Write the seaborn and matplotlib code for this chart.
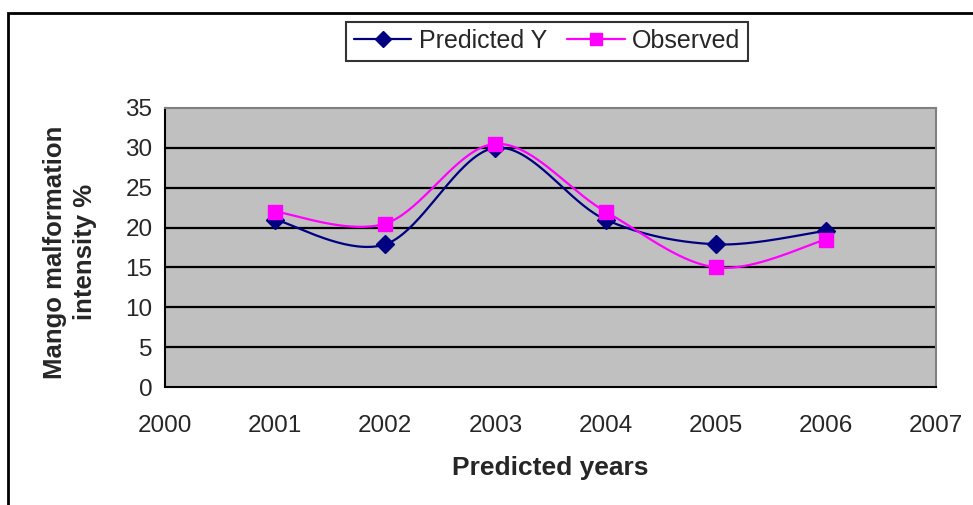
import numpy as np
import pandas as pd
import matplotlib
matplotlib.use("Agg")
import matplotlib.pyplot as plt
from matplotlib.patches import Rectangle
from matplotlib.lines import Line2D
import seaborn as sns

years = [2001, 2002, 2003, 2004, 2005, 2006]
predicted = [21.0, 17.9, 30.0, 21.0, 17.9, 19.6]
observed = [22.0, 20.5, 30.5, 22.0, 15.0, 18.5]
x_ticks = [2000, 2001, 2002, 2003, 2004, 2005, 2006, 2007]
y_ticks = [0, 5, 10, 15, 20, 25, 30, 35]

sns.set_style("white")
plt.rcParams['font.family'] = ['Liberation Sans', 'DejaVu Sans']


def smooth(xs, ys, n=40):
    """Excel-style smoothed line (Catmull-Rom Bezier) through the data points."""
    xs = np.asarray(xs, float)
    ys = np.asarray(ys, float)
    px = np.concatenate([[xs[0]], xs, [xs[-1]]])
    py = np.concatenate([[ys[0]], ys, [ys[-1]]])
    ox, oy = [], []
    t = np.linspace(0, 1, n)
    for i in range(1, len(px) - 2):
        p0 = np.array([px[i], py[i]])
        p3 = np.array([px[i + 1], py[i + 1]])
        c1 = p0 + (np.array([px[i + 1], py[i + 1]]) - np.array([px[i - 1], py[i - 1]])) / 6
        c2 = p3 - (np.array([px[i + 2], py[i + 2]]) - np.array([px[i], py[i]])) / 6
        b = ((1 - t) ** 3)[:, None] * p0 + (3 * (1 - t) ** 2 * t)[:, None] * c1 \
            + (3 * (1 - t) * t ** 2)[:, None] * c2 + (t ** 3)[:, None] * p3
        ox.extend(b[:, 0]); oy.extend(b[:, 1])
    return np.array(ox), np.array(oy)


fig = plt.figure(figsize=(9.73, 5.05), dpi=100)
ax = fig.add_axes([165 / 973, 1 - 387 / 505, (936 - 165) / 973, (387 - 108) / 505])
ax.set_facecolor("#C0C0C0")

navy = "#000080"
magenta = "#FF00FF"

for vals, col, mk, ms in [(predicted, navy, "D", 9), (observed, magenta, "s", 9.5)]:
    sx, sy = smooth(years, vals)
    sns.lineplot(x=sx, y=sy, ax=ax, color=col, lw=1.6, sort=False, estimator=None, zorder=3)
    df = pd.DataFrame({"year": years, "v": vals})
    ax.plot(df["year"], df["v"], ls="none", marker=mk, ms=ms, color=col,
            markeredgecolor=col, zorder=4)

ax.set_xlim(2000, 2007)
ax.set_ylim(0, 35)
ax.set_xticks(x_ticks)
ax.set_yticks(y_ticks)
ax.set_xticklabels([str(v) for v in x_ticks], fontsize=17.5)
ax.set_yticklabels([str(v) for v in y_ticks], fontsize=17.5)
for yv in y_ticks[1:-1]:
    ax.axhline(yv, color="black", lw=1.6, zorder=1)

for s in ["left", "bottom"]:
    ax.spines[s].set_color("black")
    ax.spines[s].set_linewidth(1.5)
for s in ["top", "right"]:
    ax.spines[s].set_color("#808080")
    ax.spines[s].set_linewidth(1.5)
ax.tick_params(axis="both", direction="out", length=6, width=1.2, color="black")
ax.tick_params(axis="x", pad=14)
ax.tick_params(axis="y", pad=3)

fig.text(550 / 973, 1 - 468 / 505, "Predicted years", fontsize=19, fontweight="bold",
         ha="center", va="center")
fig.text(70 / 973, 1 - 252 / 505, "Mango malformation\nintensity %", fontsize=18.5,
         fontweight="bold", ha="center", va="center", rotation=90, linespacing=1.35)

handles = [
    Line2D([0], [0], color=navy, lw=1.6, marker="D", ms=8),
    Line2D([0], [0], color=magenta, lw=1.6, marker="s", ms=8),
]
leg = fig.legend(handles, ["Predicted Y", "Observed"], loc="center",
                 bbox_to_anchor=(547 / 973, 1 - 41 / 505), ncol=2, fontsize=18,
                 frameon=True, fancybox=False, edgecolor="black", handlelength=2.3,
                 handletextpad=0.3, columnspacing=0.8, borderpad=0.3)
leg.get_frame().set_linewidth(1.5)

fig.patches.append(Rectangle((8 / 973, -0.1), 1.2, 1 - 13 / 505 + 0.1,
                             transform=fig.transFigure, fill=False,
                             edgecolor="black", lw=2, zorder=0))

fig.savefig("out.png", dpi=100)
